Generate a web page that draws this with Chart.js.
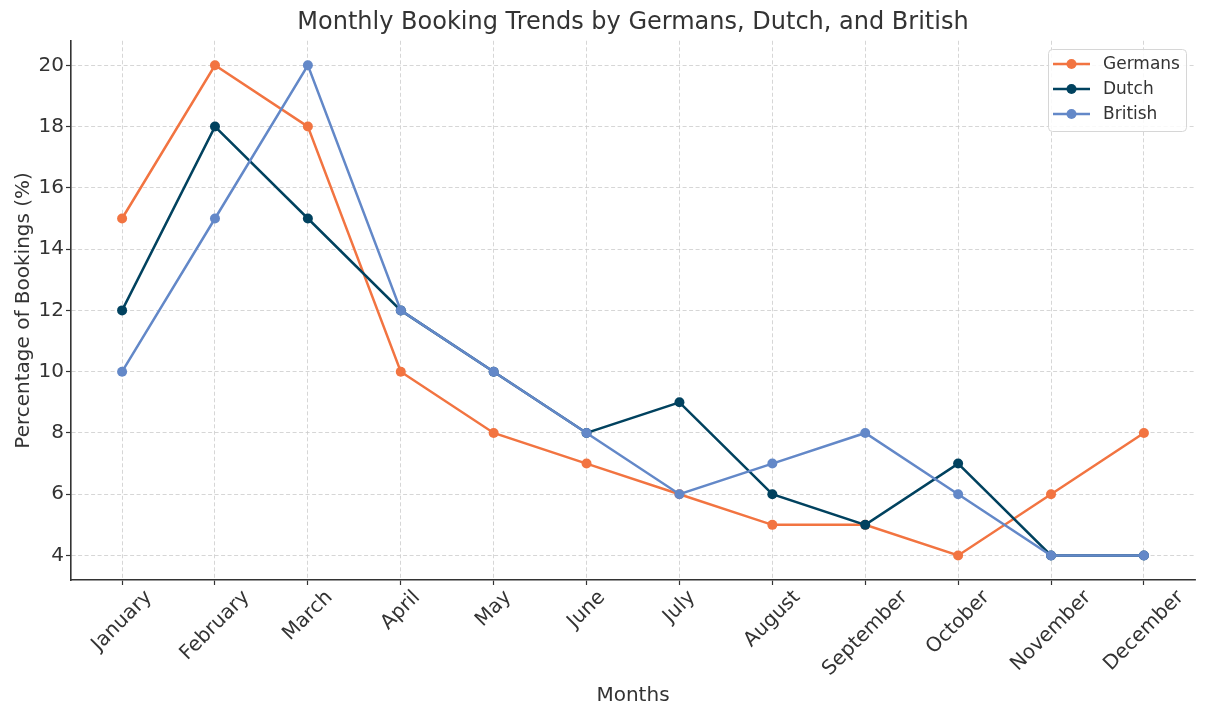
<!DOCTYPE html>
<html>
<head>
<meta charset="utf-8">
<script src="https://cdn.jsdelivr.net/npm/chart.js@4.4.1/dist/chart.umd.min.js"></script>
<style>
  html, body { margin: 0; padding: 0; background: #ffffff; }
  #chart { display: block; }
</style>
</head>
<body>
<canvas id="chart" width="1206" height="720"></canvas>
<script>
const months = ["January", "February", "March", "April", "May", "June",
    "July", "August", "September", "October", "November", "December"];

const germans = [15, 20, 18, 10, 8, 7, 6, 5, 5, 4, 6, 8];
const dutch = [12, 18, 15, 12, 10, 8, 9, 6, 5, 7, 4, 4];
const british = [10, 15, 20, 12, 10, 8, 6, 7, 8, 6, 4, 4];

const yTicks = [4, 6, 8, 10, 12, 14, 16, 18, 20];

const FONT = "'DejaVu Sans', sans-serif";
const TEXT = "#333333";


function points(arr) {
    return arr.map((v, i) => ({ x: i, y: v }));
}

function series(label, arr, color, order) {
    return {
        label: label,
        data: points(arr),
        borderColor: color,
        backgroundColor: color,
        borderWidth: 2.5,
        pointRadius: 5,
        pointHoverRadius: 5,
        pointBorderWidth: 0,
        tension: 0,
        fill: false,
        order: order
    };
}


// x tick labels, rotated 45deg and centred on the tick like matplotlib
const monthLabels = {
    id: "monthLabels",
    afterDraw(chart) {
        const ctx = chart.ctx;
        const xs = chart.scales.x;
        const top = chart.chartArea.bottom + 9;
        ctx.save();
        ctx.font = "20px " + FONT;
        ctx.fillStyle = TEXT;
        ctx.textAlign = "center";
        ctx.textBaseline = "middle";
        months.forEach((m, i) => {
            const w = ctx.measureText(m).width;
            const h = 15;
            const side = (w + h) * Math.SQRT1_2;
            const cx = xs.getPixelForValue(i);
            const cy = top + side / 2;
            ctx.save();
            ctx.translate(cx, cy);
            ctx.rotate(-Math.PI / 4);
            ctx.fillText(m, 0, 0);
            ctx.restore();
        });
        ctx.restore();
    }
};


// legend box with line + marker, top right inside the axes
const boxLegend = {
    id: "boxLegend",
    afterDraw(chart) {
        const ctx = chart.ctx;
        const x0 = 1048, y0 = 49, w = 138, h = 82;
        ctx.save();
        ctx.fillStyle = "rgba(255,255,255,0.85)";
        ctx.strokeStyle = "#d6d6d6";
        ctx.lineWidth = 1;
        ctx.beginPath();
        ctx.roundRect(x0 + 0.5, y0 + 0.5, w, h, 4);
        ctx.fill();
        ctx.stroke();

        ctx.font = "17px " + FONT;
        ctx.textBaseline = "middle";
        ctx.textAlign = "left";
        chart.data.datasets.forEach((ds, i) => {
            const y = y0 + 15 + i * 25;
            ctx.strokeStyle = ds.borderColor;
            ctx.lineWidth = 2.5;
            ctx.beginPath();
            ctx.moveTo(x0 + 5, y);
            ctx.lineTo(x0 + 42, y);
            ctx.stroke();
            ctx.fillStyle = ds.borderColor;
            ctx.beginPath();
            ctx.arc(x0 + 23.5, y, 5, 0, Math.PI * 2);
            ctx.fill();
            ctx.fillStyle = TEXT;
            ctx.fillText(ds.label, x0 + 55, y + 1);
        });
        ctx.restore();
    }
};


const gridOpts = {
    color: "#cccccc",
    lineWidth: 0.8,
    tickColor: "#333333",
    tickLength: 5,
    tickWidth: 1.2,
    tickBorderDash: []
};

const borderOpts = {
    display: true,
    color: "#333333",
    width: 1.6,
    dash: [4, 2.5]
};


let chart = new Chart(document.getElementById("chart"), {

    type: "line",

    data: {
        datasets: [
            series("Germans", germans, "#f27441", 3),
            series("Dutch", dutch, "#01425f", 2),
            series("British", british, "#6388c8", 1)
        ]
    },

    options: {
        responsive: false,
        animation: false,
        devicePixelRatio: 1,

        layout: {
            padding: { left: 8, right: 11, top: 0, bottom: 8 }
        },

        plugins: {
            legend: { display: false },
            tooltip: { enabled: false },
            title: {
                display: true,
                fullSize: false,
                text: "Monthly Booking Trends by Germans, Dutch, and British",
                color: TEXT,
                font: { family: FONT, size: 24, weight: "normal" },
                padding: { top: 8, bottom: 4 }
            }
        },

        scales: {

            x: {
                type: "linear",
                min: -0.55,
                max: 11.55,
                afterBuildTicks: (s) => {
                    s.ticks = months.map((m, i) => ({ value: i }));
                },
                afterFit: (s) => { s.height = 132; },
                ticks: {
                    color: "rgba(0,0,0,0)",
                    font: { family: FONT, size: 20 },
                    maxRotation: 45,
                    minRotation: 45,
                    callback: (v) => months[v]
                },
                grid: gridOpts,
                border: borderOpts,
                title: {
                    display: true,
                    text: "Months",
                    color: TEXT,
                    font: { family: FONT, size: 20 }
                }
            },

            y: {
                min: 3.2,
                max: 20.8,
                afterBuildTicks: (s) => {
                    s.ticks = yTicks.map((v) => ({ value: v }));
                },
                afterFit: (s) => { s.width = 63; },
                ticks: {
                    color: TEXT,
                    font: { family: FONT, size: 20 },
                    padding: 2
                },
                grid: gridOpts,
                border: borderOpts,
                title: {
                    display: true,
                    text: "Percentage of Bookings (%)",
                    color: TEXT,
                    font: { family: FONT, size: 20 }
                }
            }
        }
    },

    plugins: [monthLabels, boxLegend]
});
</script>
</body>
</html>
